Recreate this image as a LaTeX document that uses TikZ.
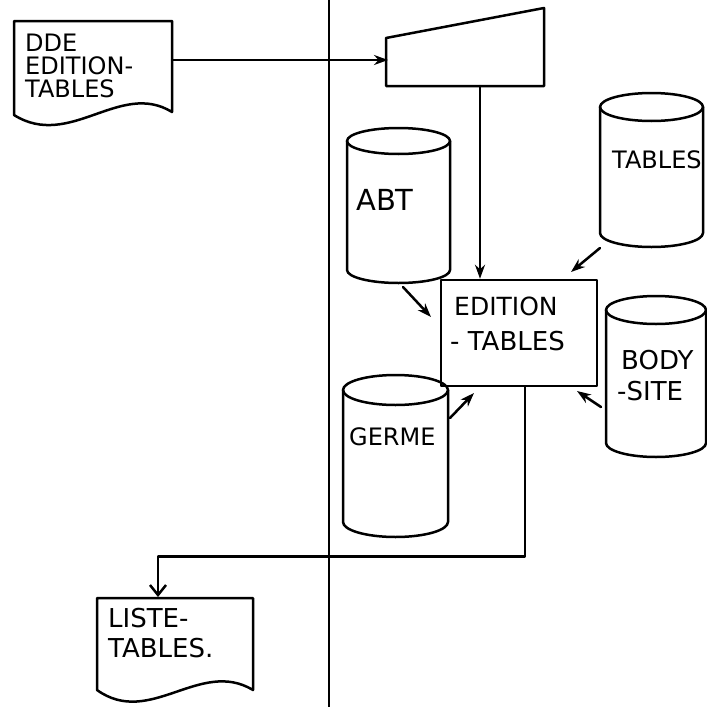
\documentclass[tikz,border=0pt]{standalone}
\usepackage{fontspec}
\setmainfont{DejaVu Sans}
\newfontfamily\handfont{DejaVu Sans}
\usetikzlibrary{arrows.meta}
\newcommand\dbcyl[5]{% x1, x2, ytop, ybot, ry
  \pgfmathsetmacro\cylcx{(#1+#2)/2}%
  \pgfmathsetmacro\cylrx{(#2-#1)/2}%
  \draw[ln] (\cylcx,#3) ellipse [x radius=\cylrx, y radius=#5];
  \draw[ln] (#1,#3) -- (#1,#4) arc[start angle=180, end angle=0, x radius=\cylrx, y radius=#5] -- (#2,#3);
}
\newcommand\handsz[1]{\handfont\fontsize{#1}{#1}\selectfont}
\begin{document}
\begin{tikzpicture}[x=1pt,y=-1pt,
  ln/.style={line width=2.5pt, line join=round, line cap=round},
  arr/.style={ln, -{Stealth[length=14pt,width=10pt]}},
  oarr/.style={ln, -{Straight Barb[length=10pt,width=16pt]}},
  lbl/.style={inner sep=0pt, align=left, anchor=west},
  proc/.style={ln, draw, rectangle, minimum width=156pt, minimum height=106pt, inner sep=0pt}]
\useasboundingbox (0,0) rectangle (707,707);
\fill[white] (0,0) rectangle (707,707);

% divider
\coordinate (divtop) at (329,0);
\coordinate (divbot) at (329,707);
\draw[ln] (divtop) -- (divbot);

% document: DDE EDITION-TABLES
\draw[ln] (14,21) -- (172,21) -- (172,112) .. controls (120,80) and (70,150) .. (14,115) -- cycle;
\node[lbl, font=\handsz{24}] (dde1) at (25,43) {DDE};
\node[lbl, font=\handsz{24}] (dde2) at (25,66) {EDITION-};
\node[lbl, font=\handsz{24}] (dde3) at (25,89) {TABLES};
\coordinate (ddeout) at (172,60);

% manual input (trapezoid)
\draw[ln] (386,38) -- (544,8) -- (544,86) -- (386,86) -- cycle;
\coordinate (trapL) at (388,60);
\coordinate (trapB) at (480,86);

% process box
\node[proc] (edit) at (519,333) {};
\node[lbl, font=\handsz{25}] (editt1) at (454,306) {EDITION};
\node[lbl, font=\handsz{26}] (editt2) at (450,341) {- TABLES};

% cylinders
\dbcyl{347}{450}{141}{270}{13}
\node[lbl, font=\handsz{29}] (abt) at (356,200) {ABT};
\dbcyl{600}{703}{107}{233}{14}
\node[lbl, font=\handsz{24}] (tab) at (612,160) {TABLES};
\dbcyl{343}{448}{390}{522}{15}
\node[lbl, font=\handsz{24}] (germe) at (349,437) {GERME};
\dbcyl{606}{706}{310}{443}{14}
\node[lbl, font=\handsz{26}] (body1) at (621,360) {BODY};
\node[lbl, font=\handsz{26}] (body2) at (617,391) {-SITE};

% document: LISTE-TABLES.
\draw[ln] (97,598) -- (253,598) -- (253,690) .. controls (200,658) and (150,728) .. (97,690) -- cycle;
\node[lbl, font=\handsz{26}] (liste1) at (108,618) {LISTE-};
\node[lbl, font=\handsz{26}] (liste2) at (108,648) {TABLES.};
\coordinate (listin) at (158,597);

% connectors
\coordinate (abtout) at (403,287); \coordinate (abtin) at (431,317);
\coordinate (tabout) at (600,248); \coordinate (tabin) at (571,272);
\coordinate (gerout) at (450,418); \coordinate (gerin) at (474,393);
\coordinate (bodout) at (601,407); \coordinate (bodin) at (577,391);
\coordinate (outx) at (525,0);

\draw[arr] (ddeout) -- (trapL);
\draw[arr] (trapB) -- (trapB |- edit.north);
\draw[arr] (abtout) -- (abtin);
\draw[arr] (tabout) -- (tabin);
\draw[arr] (gerout) -- (gerin);
\draw[arr] (bodout) -- (bodin);
\draw[oarr] (edit.south -| outx) -- ++(0,169) -| (listin);
\end{tikzpicture}
\end{document}
